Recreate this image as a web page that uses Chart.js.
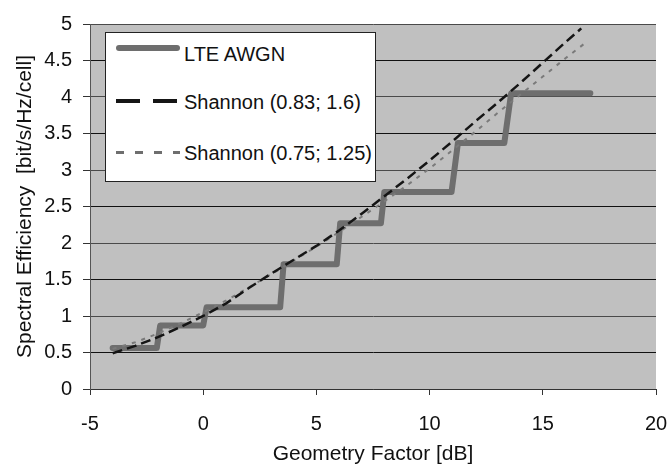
<!DOCTYPE html>
<html>
<head>
<meta charset="utf-8">
<script src="https://cdn.jsdelivr.net/npm/chart.js@4/dist/chart.umd.min.js"></script>
<style>
  body { margin: 0; background: #fff; }
  #wrap { position: relative; width: 668px; height: 467px; }
  #legend {
    position: absolute; left: 105px; top: 32px; width: 269px; height: 148px;
    background: #fff; border: 1px solid #222;
    font-family: "Liberation Sans", Arial, sans-serif; font-size: 20px; color: #111;
  }
  .row { position: absolute; left: 0; height: 24px; }
  .row span { position: absolute; left: 78px; top: 0; line-height: 24px; white-space: nowrap; }
  .sample { position: absolute; left: 10px; width: 64px; }
</style>
</head>
<body>
<div id="wrap">
  <canvas id="chart-area" width="668" height="467"></canvas>
  <div id="legend"></div>
</div>
<script>
// LTE AWGN link curve (stepped)
var lteX = [-4.0, -2.05, -1.9, 0.0, 0.15, 3.4, 3.55, 5.9, 6.05, 7.85, 8.0, 10.97, 11.25, 13.3, 13.6, 17.1];
var lteY = [0.56, 0.56, 0.87, 0.87, 1.12, 1.12, 1.71, 1.71, 2.27, 2.27, 2.70, 2.70, 3.37, 3.37, 4.05, 4.05];

// Shannon (0.83; 1.6)
var shAX = [-4, -3, -2, -1, 0, 1, 2, 3, 4, 5, 6, 7, 8, 9, 10, 11, 12, 13, 14, 15, 16, 16.7];
var shAY = [0.49, 0.59, 0.71, 0.85, 1.00, 1.17, 1.38, 1.58, 1.77, 1.96, 2.17, 2.40, 2.64, 2.88, 3.13, 3.39, 3.66, 3.92, 4.19, 4.47, 4.75, 4.94];

// Shannon (0.75; 1.25)
var shBX = [-4, -3, -2, -1, 0, 1, 2, 3, 4, 5, 6, 7, 8, 9, 10, 11, 12, 13, 14, 15, 16, 17];
var shBY = [0.55, 0.64, 0.76, 0.90, 1.05, 1.21, 1.39, 1.57, 1.76, 1.95, 2.15, 2.36, 2.57, 2.79, 3.02, 3.27, 3.52, 3.78, 4.03, 4.28, 4.53, 4.77];

var seriesNames = ['LTE AWGN', 'Shannon (0.83; 1.6)', 'Shannon (0.75; 1.25)'];
var xTicks = [-5, 0, 5, 10, 15, 20];

function pts(xs, ys){
    return xs.map(function(x, i){ return {x: x, y: ys[i]}; });
}

var plotBg = {
    id: 'plotBg',
    beforeDraw: function(chart){
        var a = chart.chartArea, c = chart.ctx;
        c.save();
        c.fillStyle = '#c0c0c0';
        c.fillRect(a.left, a.top, a.right - a.left, a.bottom - a.top);
        c.restore();
    }
};

var font = { family: 'Liberation Sans', size: 20 };
var titleFont = { family: 'Liberation Sans', size: 21 };

var ctx = document.getElementById('chart-area').getContext('2d');
var config = {
    type: 'scatter',
    data: {
        datasets: [{
            label: seriesNames[0],
            data: pts(lteX, lteY),
            showLine: true,
            borderColor: '#6e6e6e',
            borderWidth: 6,
            borderJoinStyle: 'round',
            borderCapStyle: 'round',
            pointRadius: 0,
            order: 3
        }, {
            label: seriesNames[1],
            data: pts(shAX, shAY),
            showLine: true,
            borderColor: '#151515',
            borderWidth: 2.5,
            borderDash: [10, 5],
            pointRadius: 0,
            order: 1
        }, {
            label: seriesNames[2],
            data: pts(shBX, shBY),
            showLine: true,
            borderColor: '#7a7a7a',
            borderWidth: 2,
            borderDash: [4, 6],
            pointRadius: 0,
            order: 2
        }]
    },
    options: {
        responsive: false,
        animation: false,
        devicePixelRatio: 1,
        layout: { padding: { top: 24, right: 12, left: 0, bottom: 0 } },
        plugins: {
            legend: { display: false },
            tooltip: { enabled: false }
        },
        scales: {
            x: {
                type: 'linear',
                min: -5, max: 20,
                afterBuildTicks: function(s){ s.ticks = xTicks.map(function(v){ return {value: v}; }); },
                afterFit: function(s){ s.height = 78; s.paddingLeft = 0; s.paddingRight = 0; },
                grid: { drawOnChartArea: false, drawTicks: true, tickLength: 6, tickColor: '#333' },
                border: { color: '#333', width: 1 },
                ticks: { color: '#111', font: font, padding: 17, maxRotation: 0 },
                title: { display: true, text: 'Geometry Factor [dB]', color: '#111', font: titleFont, padding: { top: 0, bottom: 0 } }
            },
            y: {
                min: 0, max: 5,
                ticks: {
                    stepSize: 0.5, color: '#111', font: font, padding: 11,
                    callback: function(v){ return String(Math.round(v * 10) / 10); }
                },
                afterFit: function(s){ s.width = 90; s.paddingTop = 0; s.paddingBottom = 0; },
                grid: {
                    color: function(c){ return (c.tick && Math.abs(c.tick.value % 1) > 0.1) ? '#111' : '#4a4a4a'; },
                    lineWidth: 1,
                    tickLength: 7,
                    tickColor: '#333'
                },
                border: { color: '#555', width: 1 },
                title: { display: true, text: 'Spectral Efficiency  [bit/s/Hz/cell]', color: '#111', font: titleFont, padding: { top: 13, bottom: 0 } }
            }
        }
    },
    plugins: [plotBg]
};
window.myChart = new Chart(ctx, config);

// legend box drawn as HTML, entries from the series names
var styles = [
    'top:3px;height:6px;border-radius:3px;background:#6e6e6e;',
    'top:9px;height:4px;background:repeating-linear-gradient(90deg,#151515 0 24px,transparent 24px 37px);',
    'top:10px;height:3px;background:repeating-linear-gradient(90deg,#6e6e6e 0 8px,transparent 8px 19px);'
];
var tops = [9, 57, 108];
var legend = document.getElementById('legend');
seriesNames.forEach(function(name, i){
    var row = document.createElement('div');
    row.className = 'row';
    row.style.top = tops[i] + 'px';
    row.style.width = '260px';
    var s = document.createElement('div');
    s.className = 'sample';
    s.style.cssText += styles[i];
    row.appendChild(s);
    var t = document.createElement('span');
    t.textContent = name;
    row.appendChild(t);
    legend.appendChild(row);
});
</script>
</body>
</html>
